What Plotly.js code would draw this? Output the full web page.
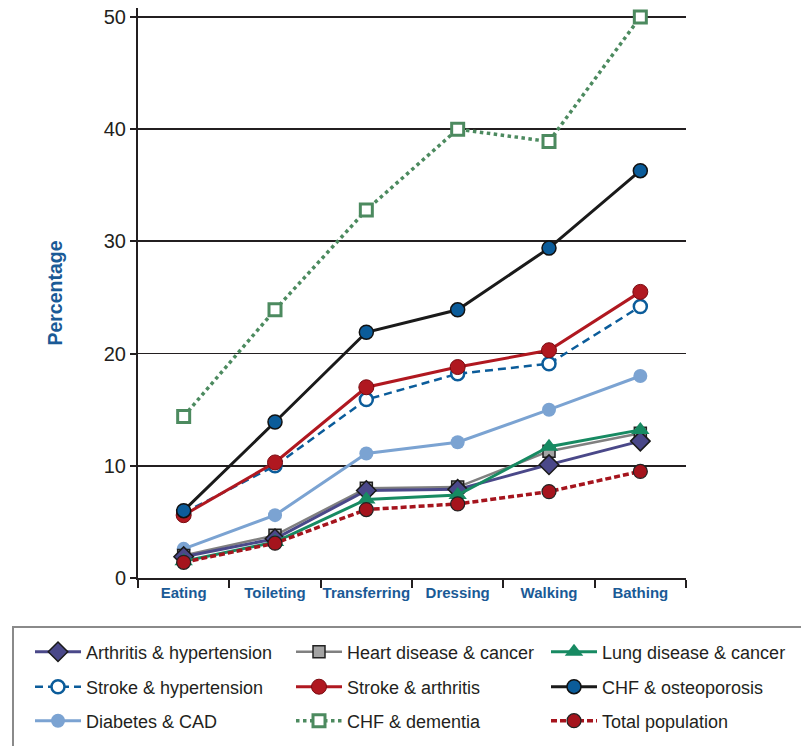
<!DOCTYPE html>
<html>
<head>
<meta charset="utf-8">
<script src="https://cdn.plot.ly/plotly-3.0.1.min.js"></script>
<style>html,body{margin:0;padding:0;background:#fff;}#chart{width:801px;height:746px;}</style>
</head>
<body>
<div id="chart"></div>
<script>
const categories = ['Eating', 'Toileting', 'Transferring', 'Dressing', 'Walking', 'Bathing'];
const yTickValues = [0, 10, 20, 30, 40, 50];

const arthritisHypertension = [1.9, 3.5, 7.8, 7.9, 10.1, 12.2];
const heartDiseaseCancer = [2.0, 3.8, 8.0, 8.1, 11.3, 12.9];
const lungDiseaseCancer = [1.5, 3.2, 7.0, 7.4, 11.7, 13.2];
const strokeHypertension = [5.8, 10.0, 15.9, 18.2, 19.1, 24.2];
const strokeArthritis = [5.6, 10.3, 17.0, 18.8, 20.3, 25.5];
const chfOsteoporosis = [6.0, 13.9, 21.9, 23.9, 29.4, 36.3];
const diabetesCad = [2.6, 5.6, 11.1, 12.1, 15.0, 18.0];
const chfDementia = [14.4, 23.9, 32.8, 40.0, 38.9, 50.0];
const totalPopulation = [1.4, 3.1, 6.1, 6.6, 7.7, 9.5];

// page geometry (pixels)
const W = 801, H = 746;
const M = {l: 138, r: 115, t: 8, b: 168};
const plotW = W - M.l - M.r, plotH = H - M.t - M.b;
const ITEMW = 46;
const legendTextX = [87, 348, 603];
const legendRowY = [652, 687, 721];
function px2x(p) { return (p - M.l) / plotW; }
function px2y(p) { return (H - M.b - p) / plotH; }

const layout = {
  width: W, height: H,
  margin: {l: M.l, r: M.r, t: M.t, b: M.b, pad: 0, autoexpand: false},
  paper_bgcolor: '#ffffff', plot_bgcolor: '#ffffff',
  showlegend: true,
  xaxis: {
    type: 'category', range: [-0.5, 5.5], tickson: 'boundaries', tickangle: 0,
    ticks: 'outside', ticklen: 8, tickwidth: 2, tickcolor: '#231f20',
    showline: true, linecolor: '#231f20', linewidth: 2, showgrid: false, zeroline: false,
    tickfont: {family: 'Liberation Sans, Arial, sans-serif', size: 15, color: '#1a5a96', weight: 'bold'},
    fixedrange: true
  },
  yaxis: {
    range: [0, 50.8], tickvals: yTickValues, ticktext: yTickValues.map(String),
    ticks: 'outside', ticklen: 6, tickwidth: 2, tickcolor: '#231f20',
    showline: true, linecolor: '#231f20', linewidth: 2,
    showgrid: true, gridcolor: '#231f20', gridwidth: 1.8, zeroline: false,
    tickfont: {family: 'Liberation Sans, Arial, sans-serif', size: 20, color: '#231f20'},
    title: {text: 'Percentage', standoff: 36,
            font: {family: 'Liberation Sans, Arial, sans-serif', size: 19.5, color: '#1a5a96', weight: 'bold'}},
    fixedrange: true
  },
  shapes: [{
    type: 'rect', xref: 'paper', yref: 'paper', layer: 'below',
    x0: px2x(13), x1: px2x(830), y0: px2y(627), y1: px2y(760),
    line: {color: '#8a8a8a', width: 2}, fillcolor: '#ffffff'
  }]
};

let legendCount = 0;
function tr(name, y, row, col, line, marker) {
  legendCount += 1;
  const id = legendCount === 1 ? 'legend' : 'legend' + legendCount;
  layout[id] = {
    orientation: 'v', xanchor: 'left', yanchor: 'middle',
    x: px2x(legendTextX[col] - ITEMW - 11), y: px2y(legendRowY[row]),
    itemwidth: ITEMW, bgcolor: 'rgba(0,0,0,0)', borderwidth: 0,
    font: {family: 'Liberation Sans, Arial, sans-serif', size: 18, color: '#231f20'},
    itemclick: false
  };
  return {
    type: 'scatter', mode: 'lines+markers', name: name, x: categories, y: y,
    legend: id, cliponaxis: false, line: line, marker: marker
  };
}

const data = [
  tr('CHF & dementia', chfDementia, 2, 1,
     {color: '#4c8a5f', width: 3.5, dash: 'dot'},
     {symbol: 'square', size: 12, color: '#ffffff', line: {color: '#4c8a5f', width: 3}}),
  tr('Diabetes & CAD', diabetesCad, 2, 0,
     {color: '#7ba3d2', width: 3},
     {symbol: 'circle', size: 14, color: '#7ba3d2', line: {color: '#7ba3d2', width: 0}}),
  tr('Stroke & hypertension', strokeHypertension, 1, 0,
     {color: '#0b5c9a', width: 2.5, dash: '8px,5px'},
     {symbol: 'circle', size: 13, color: '#ffffff', line: {color: '#0b5c9a', width: 2.5}}),
  tr('Stroke & arthritis', strokeArthritis, 1, 1,
     {color: '#b01820', width: 3},
     {symbol: 'circle', size: 15, color: '#b01820', line: {color: '#7a0a10', width: 1}}),
  tr('CHF & osteoporosis', chfOsteoporosis, 1, 2,
     {color: '#1a1a1a', width: 3},
     {symbol: 'circle', size: 14, color: '#0b5c9a', line: {color: '#111111', width: 1.5}}),
  tr('Heart disease & cancer', heartDiseaseCancer, 0, 1,
     {color: '#808080', width: 2.5},
     {symbol: 'square', size: 12, color: '#a3a3a3', line: {color: '#222222', width: 1.5}}),
  tr('Arthritis & hypertension', arthritisHypertension, 0, 0,
     {color: '#4a4889', width: 3},
     {symbol: 'diamond', size: 15, color: '#4a4889', line: {color: '#1a1a1a', width: 1.5}}),
  tr('Lung disease & cancer', lungDiseaseCancer, 0, 2,
     {color: '#178a62', width: 3},
     {symbol: 'triangle-up', size: 16, color: '#178a62', line: {color: '#178a62', width: 0}}),
  tr('Total population', totalPopulation, 2, 2,
     {color: '#a5141d', width: 3.5, dash: '6px,3px'},
     {symbol: 'circle', size: 14, color: '#a5141d', line: {color: '#222222', width: 1.2}})
];

Plotly.newPlot('chart', data, layout, {displayModeBar: false, staticPlot: true});
</script>
</body>
</html>
